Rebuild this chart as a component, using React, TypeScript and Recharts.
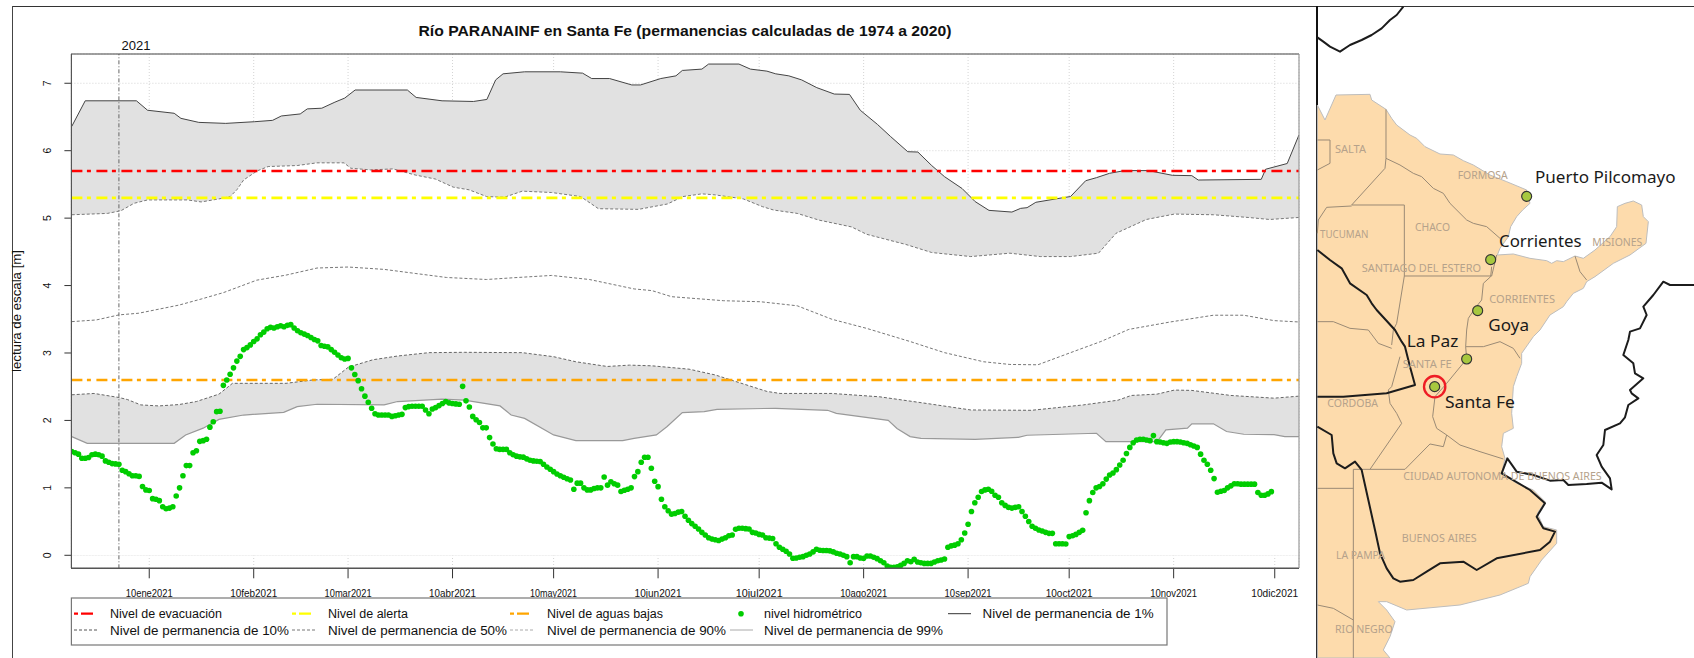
import React from "react";
import { ComposedChart, Area, Line, XAxis, YAxis, CartesianGrid, ReferenceLine } from "recharts";

const titleText = "Río PARANAINF en Santa Fe (permanencias calculadas de 1974 a 2020)";
const xTickDays = [9, 40, 68, 99, 129, 160, 190, 221, 252, 282, 313, 343];
const xTickLabels = ["10ene2021", "10feb2021", "10mar2021", "10abr2021", "10may2021", "10jun2021", "10jul2021", "10ago2021", "10sep2021", "10oct2021", "10nov2021", "10dic2021"];
const yTicks = [0, 1, 2, 3, 4, 5, 6, 7];

const evacuationLevel = 5.7;
const alertLevel = 5.3;
const lowWaterLevel = 2.6;

const p1Days = [-14, -10, 5.2, 8.5, 16.4, 18.4, 23.7, 31.7, 40.3, 45.6, 48.2, 53.8, 55.9, 60.2, 64.1, 67, 70.1, 85.6, 88.2, 95.9, 105.2, 109.2, 111.8, 114, 120.4, 131, 137.6, 140.3, 145.6, 152.2, 154.8, 160.8, 165.3, 167.2, 173, 175, 184, 187.4, 192.3, 194.9, 198.8, 202.6, 207.1, 212.3, 216.8, 220, 225.1, 229, 234.1, 237.1, 241.2, 245, 250.2, 254.1, 258.2, 265, 267.6, 269.5, 272.1, 279.8, 282.4, 286.9, 290.1, 294, 298.5, 305.5, 312.6, 318.4, 320.3, 339, 340.3, 346.7, 350.2];
const p1Values = [6.36, 6.74, 6.74, 6.6, 6.555, 6.48, 6.42, 6.405, 6.43, 6.45, 6.515, 6.545, 6.62, 6.63, 6.72, 6.78, 6.9, 6.9, 6.79, 6.74, 6.73, 6.76, 7.05, 7.14, 7.17, 7.17, 7.15, 7.07, 7.07, 6.975, 6.975, 7.07, 7.11, 7.19, 7.21, 7.285, 7.285, 7.21, 7.18, 7.14, 7.11, 7.05, 6.935, 6.84, 6.835, 6.6, 6.39, 6.21, 5.985, 5.98, 5.78, 5.615, 5.44, 5.245, 5.115, 5.09, 5.145, 5.155, 5.235, 5.3, 5.32, 5.555, 5.6, 5.665, 5.705, 5.705, 5.635, 5.63, 5.565, 5.575, 5.725, 5.81, 6.235];

const p10Days = [-14, -3.4, 0.6, 4.5, 8.5, 20.4, 24.4, 29.7, 33, 35, 37, 41, 44.3, 52.9, 58.8, 66.8, 68.8, 74.7, 81.3, 87.9, 93.9, 99.2, 103.9, 109.1, 114.4, 119.7, 128.4, 137, 142.3, 154.2, 162.8, 167.4, 173, 176.9, 185.3, 191, 194.3, 201.3, 207.8, 217.4, 221.9, 233.5, 241.2, 252.8, 264.4, 273.4, 282.4, 290.7, 295.9, 304.9, 313.2, 324.8, 335.1, 341.5, 350.2];
const p10Values = [5.05, 5.07, 5.11, 5.22, 5.27, 5.27, 5.24, 5.285, 5.32, 5.42, 5.565, 5.7, 5.765, 5.78, 5.82, 5.82, 5.74, 5.715, 5.73, 5.64, 5.58, 5.46, 5.42, 5.32, 5.31, 5.4, 5.38, 5.32, 5.14, 5.13, 5.21, 5.32, 5.36, 5.345, 5.285, 5.17, 5.12, 5.07, 4.97, 4.87, 4.76, 4.61, 4.49, 4.43, 4.48, 4.43, 4.43, 4.48, 4.775, 4.98, 5.06, 5.05, 5.01, 4.98, 5.01];

const p50Days = [-14, -6.7, 0, 5.9, 17.8, 24.4, 31, 40.9, 49.6, 58.8, 68, 78.7, 87.9, 97.2, 109.1, 118.4, 128.4, 139.6, 152.9, 158.2, 164, 179.5, 190.4, 201.3, 211.6, 221.9, 234.8, 245, 256.6, 264.4, 272.7, 282.4, 291.4, 299.7, 312, 324.8, 333.8, 342.8, 350.2];
const p50Values = [3.465, 3.49, 3.565, 3.59, 3.71, 3.8, 3.895, 4.08, 4.155, 4.26, 4.275, 4.24, 4.18, 4.12, 4.09, 4.12, 4.15, 4.09, 3.95, 3.925, 3.835, 3.775, 3.76, 3.7, 3.5, 3.365, 3.17, 3.005, 2.87, 2.83, 2.825, 3.005, 3.17, 3.35, 3.46, 3.56, 3.56, 3.48, 3.46];

const p90Days = [-14, -7.4, 0, 2.5, 6.5, 11.8, 17.8, 23, 29.7, 33.7, 49.6, 57.5, 63.5, 68.1, 75.4, 82.7, 92, 102.5, 119.7, 129, 135.6, 144.9, 151.5, 158.1, 169.2, 176.9, 192.3, 196.2, 211.6, 225.8, 239.9, 252.8, 270.8, 286.2, 296.5, 300.4, 308.1, 313.2, 318.4, 330, 342.8, 350.2];
const p90Values = [2.38, 2.4, 2.34, 2.31, 2.23, 2.215, 2.235, 2.28, 2.39, 2.55, 2.55, 2.6, 2.61, 2.79, 2.9, 2.955, 3.005, 3.01, 3.005, 2.945, 2.87, 2.8, 2.82, 2.81, 2.76, 2.675, 2.43, 2.4, 2.4, 2.35, 2.25, 2.155, 2.15, 2.23, 2.3, 2.37, 2.39, 2.45, 2.445, 2.37, 2.33, 2.36];

const p99Days = [-14, -9.4, 16.4, 19.8, 25, 29.7, 37, 48.9, 52.9, 58.8, 78.7, 82.7, 95.9, 102.5, 113.1, 116.4, 120.4, 129, 135.6, 149.5, 152.9, 159.5, 162.7, 167.2, 173.7, 177.5, 194.9, 210.3, 212.9, 228.3, 230.9, 234.8, 238, 254.1, 266.9, 269.5, 290.1, 292.9, 308.1, 310.7, 317.1, 318.4, 324.8, 328.7, 333.8, 342.8, 346, 350.2];
const p99Values = [1.76, 1.66, 1.66, 1.785, 1.885, 2.015, 2.08, 2.12, 2.205, 2.24, 2.23, 2.28, 2.315, 2.3, 2.215, 2.08, 2.03, 1.785, 1.7, 1.7, 1.735, 1.785, 1.91, 2.115, 2.13, 2.165, 2.18, 2.15, 2.105, 2, 1.88, 1.76, 1.735, 1.72, 1.75, 1.78, 1.81, 1.685, 1.685, 1.86, 1.885, 1.95, 1.95, 1.835, 1.795, 1.79, 1.76, 1.76];

const levelFirstDay = -14;
const levelValues = [
  1.54, 1.52, 1.5, 1.44, 1.44, 1.45, 1.49, 1.5, 1.49, 1.47, 1.4, 1.38, 1.36, 1.355, 1.35,
  1.26, 1.24, 1.21, 1.18, 1.18, 1.17, 1.02, 0.97, 0.96, 0.84, 0.83, 0.81, 0.72, 0.69, 0.7,
  0.72, 0.88, 1.0, 1.18, 1.33, 1.33, 1.52, 1.55, 1.69, 1.7, 1.72, 1.9, 1.98, 2.13, 2.135,
  2.52, 2.6, 2.685, 2.78, 2.88, 2.95, 3.05, 3.08, 3.12, 3.17, 3.21, 3.27, 3.31, 3.36, 3.38,
  3.37, 3.39, 3.405, 3.39, 3.41, 3.42, 3.37, 3.33, 3.3, 3.28, 3.26, 3.23, 3.2, 3.18, 3.11,
  3.1, 3.09, 3.05, 3.01, 2.97, 2.93, 2.91, 2.92, 2.78, 2.68, 2.59, 2.47, 2.36, 2.27, 2.18,
  2.1, 2.08, 2.08, 2.08, 2.08, 2.06, 2.07, 2.08, 2.09, 2.19, 2.205, 2.21, 2.21, 2.21, 2.21,
  2.155, 2.1, 2.17, 2.19, 2.22, 2.25, 2.28, 2.26, 2.25, 2.245, 2.24, 2.505, 2.29, 2.2, 2.06,
  2.01, 1.97, 1.89, 1.89, 1.745, 1.65, 1.58, 1.57, 1.57, 1.57, 1.52, 1.49, 1.47, 1.46, 1.455,
  1.43, 1.41, 1.4, 1.395, 1.39, 1.35, 1.31, 1.275, 1.24, 1.205, 1.18, 1.157, 1.135, 1.117, 0.98,
  1.07, 1.07, 1.0, 0.97, 0.97, 0.99, 1.0, 1.0, 1.16, 1.04, 1.09, 1.06, 1.04, 0.945, 0.965,
  0.98, 1.0, 1.167, 1.24, 1.38, 1.453, 1.453, 1.29, 1.097, 1.018, 0.83, 0.72, 0.66, 0.61, 0.62,
  0.64, 0.65, 0.58, 0.52, 0.47, 0.43, 0.39, 0.34, 0.3, 0.26, 0.24, 0.23, 0.22, 0.24, 0.26,
  0.29, 0.3, 0.385, 0.4, 0.4, 0.395, 0.39, 0.34, 0.33, 0.31, 0.3, 0.26, 0.255, 0.25, 0.17,
  0.12, 0.09, 0.06, 0.02, -0.045, -0.04, -0.03, -0.02, 0.0, 0.02, 0.05, 0.09, 0.075, 0.07, 0.07,
  0.065, 0.05, 0.03, 0.02, 0.0, -0.02, -0.11, -0.02, -0.02, -0.04, -0.045, -0.01, -0.01, -0.03, -0.05,
  -0.08, -0.11, -0.16, -0.18, -0.18, -0.17, -0.15, -0.12, -0.08, -0.095, -0.06, -0.1, -0.11, -0.12, -0.12,
  -0.12, -0.1, -0.08, -0.07, -0.055, 0.12, 0.14, 0.15, 0.17, 0.23, 0.33, 0.46, 0.65, 0.78, 0.86,
  0.945, 0.97, 0.98, 0.95, 0.89, 0.86, 0.78, 0.74, 0.71, 0.7, 0.71, 0.72, 0.65, 0.58, 0.5,
  0.43, 0.4, 0.375, 0.36, 0.34, 0.325, 0.325, 0.17, 0.17, 0.17, 0.168, 0.277, 0.29, 0.31, 0.34,
  0.37, 0.63, 0.81, 0.93, 1.0, 1.02, 1.06, 1.13, 1.19, 1.22, 1.27, 1.34, 1.41, 1.51, 1.6,
  1.67, 1.71, 1.72, 1.72, 1.71, 1.7, 1.775, 1.685, 1.68, 1.67, 1.66, 1.68, 1.685, 1.685, 1.68,
  1.67, 1.66, 1.64, 1.62, 1.6, 1.5, 1.41, 1.35, 1.26, 1.137, 0.934, 0.95, 0.96, 1.0, 1.03,
  1.06, 1.06, 1.055, 1.055, 1.055, 1.055, 1.055, 0.93, 0.89, 0.89, 0.91, 0.944,
];

const toRows = (days: number[], values: number[]) => days.map((day, i) => ({ day, v: values[i] }));
const p1Rows = toRows(p1Days, p1Values);
const p10Rows = toRows(p10Days, p10Values);
const p50Rows = toRows(p50Days, p50Values);
const p90Rows = toRows(p90Days, p90Values);
const p99Rows = toRows(p99Days, p99Values);
const levelRows = levelValues.map((v, i) => ({ day: levelFirstDay + i, v }));

const legendRow1 = ["Nivel de evacuación", "Nivel de alerta", "Nivel de aguas bajas", "nivel hidrométrico", "Nivel de permanencia de 1%"];
const legendRow2 = ["Nivel de permanencia de 10%", "Nivel de permanencia de 50%", "Nivel de permanencia de 90%", "Nivel de permanencia de 99%"];

const DASH = "11 4.5 4 5.5";
const BAND = "#E1E1E1";
const GREEN = "#00CD00";
const FONT = "'Liberation Sans', Arial, sans-serif";

// Map shapes, in 3x coordinates of the map panel
const landOutline = "52,315 75,360 108,285 210,283 215,300 258,328 275,355 290,375 330,405 350,415 375,440 420,462 460,465 490,482 520,495 570,525 620,545 680,570 690,610 668,630 650,650 632,680 625,710 600,745 592,765 640,762 690,775 740,782 755,790 770,782 790,785 825,768 850,775 885,750 930,710 950,680 952,620 975,610 1000,603 1025,615 1030,650 1045,665 1038,730 990,765 940,790 885,830 860,845 850,865 820,880 800,905 790,920 750,945 720,990 700,1010 665,1060 665,1090 650,1130 640,1160 635,1240 640,1285 610,1300 605,1340 615,1375 605,1420 650,1450 700,1470 735,1505 712,1540 730,1580 770,1590 770,1630 725,1680 690,1730 685,1750 600,1785 480,1815 320,1830 260,1805 235,1805 260,1830 285,1865 270,1910 250,1950 270,1974 52,1974";
const provinceLines = [
  "258,328 258,475 255,505 155,615",
  "258,475 300,495 340,520 365,530 400,565 430,580 450,610 500,660 520,670 560,680 600,715",
  "155,618 80,622 55,660 52,700",
  "155,615 313,615 313,828 575,828 590,765",
  "313,828 290,970 280,990 275,1035",
  "575,800 572,830 550,850 545,900 525,925 505,955 500,990 497,1040 500,1077 440,1150 405,1190 398,1250 410,1285 440,1305",
  "497,1040 550,1040 600,1025 640,1045 660,1075",
  "825,768 840,815 860,840",
  "275,1160 265,1170 270,1210 290,1240 305,1270 210,1408",
  "300,1070 275,1160",
  "440,1305 430,1340 390,1332 315,1408 160,1408 160,1974",
  "440,1305 480,1335 540,1355 610,1377",
  "52,1465 160,1465",
  "52,1815 100,1825 160,1860",
  "52,420 90,420 90,490 52,510",
  "52,965 100,965 150,985 205,990 235,1030 275,1045",
];
const borderLines = [
  "310,20 290,45 270,60 245,85 215,105 185,120 150,135 120,155 90,140 70,125 52,112",
  "52,750 90,780 125,805 150,850 200,885 215,910 230,930 285,990 305,1025 315,1040 330,1100 345,1155 260,1180 130,1190 52,1190",
  "52,1280 95,1305 100,1360 110,1390 135,1405 165,1385 185,1410 205,1500 225,1590 240,1660 260,1705 280,1735 300,1745 340,1740 380,1715 420,1690 490,1685 530,1710 590,1675 720,1650 750,1625 765,1595 730,1585 710,1550 735,1510 690,1470 605,1420 622,1375 650,1415 700,1425 750,1442 790,1440 805,1455 860,1452 905,1448 935,1468 930,1435 905,1400 890,1365 910,1335 915,1290 960,1270 975,1252 985,1215 1015,1195 995,1180 990,1170 1030,1135 1005,1120 1000,1090 970,1065 985,1020 990,995 1020,985 1040,945 1030,920 1060,885 1090,845 1110,855 1182,855",
];
const stationPoints = [[680, 589], [572, 779], [533, 932], [500, 1077], [404, 1160]];
const cityLabels: [string, number, number, number][] = [
  ["Puerto Pilcomayo", 705, 550, 422],
  ["Corrientes", 597, 742, 248],
  ["Goya", 565, 992, 122],
  ["La Paz", 320, 1040, 155],
  ["Santa Fe", 435, 1225, 210],
];
const provinceLabels: [string, number, number, number][] = [
  ["SALTA", 105, 460, 93],
  ["FORMOSA", 473, 537, 150],
  ["CHACO", 345, 693, 105],
  ["TUCUMAN", 60, 713, 145],
  ["SANTIAGO DEL ESTERO", 185, 817, 358],
  ["MISIONES", 877, 738, 150],
  ["CORRIENTES", 568, 910, 197],
  ["SANTA FE", 308, 1105, 147],
  ["CORDOBA", 82, 1220, 152],
  ["CIUDAD AUTONOMA DE BUENOS AIRES", 310, 1440, 595],
  ["BUENOS AIRES", 305, 1625, 225],
  ["LA PAMPA", 108, 1677, 147],
  ["RIO NEGRO", 105, 1898, 173],
];

const XTick = (props: any) => {
  const i = xTickDays.indexOf(props.payload.value);
  return <text x={props.x} y={597} textAnchor="middle" fontFamily={FONT} fontSize={10.5} fill="#111" textLength={47} lengthAdjust="spacingAndGlyphs">{xTickLabels[i]}</text>;
};
const YTick = (props: any) => (
  <text transform={`translate(51,${props.y}) rotate(-90)`} textAnchor="middle" fontFamily={FONT} fontSize={10.5} fill="#111">{props.payload.value}</text>
);

const Sample = ({ x, y, color, dash, w }: any) => (
  <line x1={x} x2={x + 23} y1={y} y2={y} stroke={color} strokeWidth={w} strokeDasharray={dash} />
);

function Overlay() {
  const lt = { fontFamily: FONT, fontSize: 12.5, fill: "#111" };
  return (
    <svg width={1694} height={658} style={{ position: "absolute", left: 0, top: 0, pointerEvents: "none" }}>
      <line x1={12.5} x2={1694} y1={6.5} y2={6.5} stroke="#333" strokeWidth={1} />
      <line x1={12.5} x2={12.5} y1={6} y2={658} stroke="#444" strokeWidth={1} />
      <text x={685} y={36} textAnchor="middle" fontFamily={FONT} fontWeight="bold" fontSize={15} fill="#111" textLength={533} lengthAdjust="spacingAndGlyphs">{titleText}</text>
      <text x={121.5} y={50} fontFamily={FONT} fontSize={12.5} fill="#111" textLength={29} lengthAdjust="spacingAndGlyphs">2021</text>
      <text transform="translate(21,311) rotate(-90)" textAnchor="middle" fontFamily={FONT} fontSize={12.5} fill="#111" textLength={122} lengthAdjust="spacingAndGlyphs">lectura de escala [m]</text>
      {/* plot frame */}
      <line x1={71} x2={1299} y1={54} y2={54} stroke="#444" strokeWidth={1} />
      <line x1={71.4} x2={71.4} y1={54} y2={568} stroke="#555" strokeWidth={1.2} />
      <line x1={71} x2={1299} y1={568.3} y2={568.3} stroke="#555" strokeWidth={1.5} />
      <line x1={1299} x2={1299} y1={54} y2={568} stroke="#999" strokeWidth={1.2} />
      {/* legend */}
      <rect x={71.4} y={598} width={1095.6} height={47} fill="#fff" stroke="#777" strokeWidth={1.2} />
      {[[74, "#FF0000", "Nivel de evacuación", 110], [292, "#FFFF00", "Nivel de alerta", 328], [510, "#FFA500", "Nivel de aguas bajas", 547]].map(([x, c, t, tx]: any) => (
        <g key={t}>
          <Sample x={x} y={613.7} color={c} dash="4 3 12 4" w={2.2} />
          <text x={tx} y={618} {...lt}>{t}</text>
        </g>
      ))}
      <circle cx={741} cy={613.7} r={2.8} fill={GREEN} />
      <text x={764} y={618} {...lt}>{legendRow1[3]}</text>
      <Sample x={948} y={613.7} color="#333" w={1} />
      <text x={982.6} y={618} {...lt} textLength={171} lengthAdjust="spacingAndGlyphs">{legendRow1[4]}</text>
      <Sample x={74} y={630} color="#555" dash="3 2" w={1} />
      <text x={110} y={634.5} {...lt} textLength={179} lengthAdjust="spacingAndGlyphs">{legendRow2[0]}</text>
      <Sample x={292} y={630} color="#777" dash="3 2" w={1} />
      <text x={328} y={634.5} {...lt} textLength={179} lengthAdjust="spacingAndGlyphs">{legendRow2[1]}</text>
      <Sample x={510} y={630} color="#aaa" dash="3 2" w={1} />
      <text x={547} y={634.5} {...lt} textLength={179} lengthAdjust="spacingAndGlyphs">{legendRow2[2]}</text>
      <Sample x={730} y={630} color="#aaa" w={1} />
      <text x={764} y={634.5} {...lt} textLength={179} lengthAdjust="spacingAndGlyphs">{legendRow2[3]}</text>
      {/* map */}
      <line x1={1317} x2={1317} y1={6} y2={658} stroke="#111" strokeWidth={2} />
      <g transform="translate(1300,0) scale(0.33333)">
        <polygon points={landOutline} fill="#FDDBAC" stroke="#BDBDBD" strokeWidth={3} />
        {provinceLines.map((p) => <polyline key={p} points={p} fill="none" stroke="#9A8A74" strokeWidth={3} />)}
        {borderLines.map((p) => <polyline key={p} points={p} fill="none" stroke="#1c1c1c" strokeWidth={6} strokeLinejoin="round" />)}
        {provinceLabels.map(([t, x, y, w]) => (
          <text key={t} x={x} y={y} fontFamily="'Noto Sans'" fontSize={30} fill="#B5A28B" textLength={w} lengthAdjust="spacingAndGlyphs">{t}</text>
        ))}
        <circle cx={404} cy={1160} r={32} fill="none" stroke="#EE1C25" strokeWidth={7} />
        {stationPoints.map(([x, y]) => <circle key={y} cx={x} cy={y} r={15} fill="#A7C83F" stroke="#333" strokeWidth={3.5} />)}
        {cityLabels.map(([t, x, y, w]) => (
          <text key={t} x={x} y={y} fontFamily="'Noto Sans'" fontSize={51} fill="#1a1a1a" textLength={w} lengthAdjust="spacingAndGlyphs">{t}</text>
        ))}
      </g>
    </svg>
  );
}

export default function App() {
  return (
    <div style={{ position: "absolute", left: 0, top: 0, width: 1694, height: 658, background: "#fff", overflow: "hidden" }}>
      <ComposedChart width={1317} height={658} margin={{ top: 54, right: 18, bottom: 0, left: 0 }}>
        <XAxis type="number" dataKey="day" domain={[-14.1, 350.2]} ticks={xTickDays} tick={XTick} tickSize={10} axisLine={false} stroke="#333" height={89.7} allowDataOverflow interval={0} />
        <YAxis type="number" domain={[-0.193, 7.434]} ticks={yTicks} tick={YTick} tickSize={7} axisLine={false} stroke="#333" width={71.4} allowDataOverflow interval={0} />
        <Area data={p1Rows} dataKey="v" type="linear" fill={BAND} fillOpacity={1} stroke="none" isAnimationActive={false} dot={false} activeDot={false} />
        <Area data={p10Rows} dataKey="v" type="linear" fill="#fff" fillOpacity={1} stroke="none" isAnimationActive={false} dot={false} activeDot={false} />
        <Area data={p90Rows} dataKey="v" type="linear" fill={BAND} fillOpacity={1} stroke="none" isAnimationActive={false} dot={false} activeDot={false} />
        <Area data={p99Rows} dataKey="v" type="linear" fill="#fff" fillOpacity={1} stroke="none" isAnimationActive={false} dot={false} activeDot={false} />
        <CartesianGrid stroke="#D4D4D4" strokeDasharray="1 2" />
        <Line data={p1Rows} dataKey="v" type="linear" stroke="#444" strokeWidth={1} dot={false} activeDot={false} isAnimationActive={false} />
        <Line data={p10Rows} dataKey="v" type="linear" stroke="#777" strokeWidth={1} strokeDasharray="3 2" dot={false} activeDot={false} isAnimationActive={false} />
        <Line data={p50Rows} dataKey="v" type="linear" stroke="#777" strokeWidth={1} strokeDasharray="3 2" dot={false} activeDot={false} isAnimationActive={false} />
        <Line data={p90Rows} dataKey="v" type="linear" stroke="#666" strokeWidth={1} strokeDasharray="3 2" dot={false} activeDot={false} isAnimationActive={false} />
        <Line data={p99Rows} dataKey="v" type="linear" stroke="#999" strokeWidth={1.2} dot={false} activeDot={false} isAnimationActive={false} />
        <ReferenceLine x={0} stroke="#666" strokeDasharray="4 2 1 2" strokeWidth={1} />
        <ReferenceLine y={evacuationLevel} stroke="#FF0000" strokeWidth={2.6} strokeDasharray={DASH} />
        <ReferenceLine y={alertLevel} stroke="#FFFF00" strokeWidth={2.6} strokeDasharray={DASH} />
        <ReferenceLine y={lowWaterLevel} stroke="#FFA500" strokeWidth={2.6} strokeDasharray={DASH} />
        <Line data={levelRows} dataKey="v" type="linear" stroke="none" dot={{ r: 2.8, fill: GREEN, stroke: "none" }} activeDot={false} isAnimationActive={false} />
      </ComposedChart>
      <Overlay />
    </div>
  );
}
